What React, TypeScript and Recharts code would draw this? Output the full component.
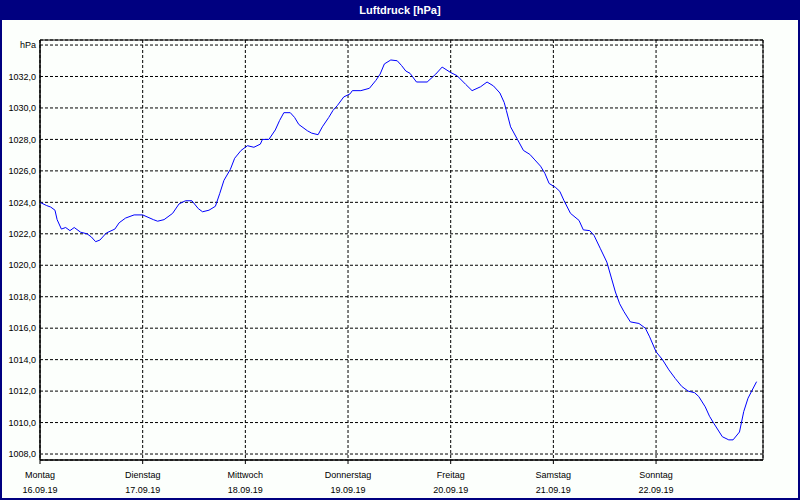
import { CartesianGrid, Line, LineChart, ReferenceArea, XAxis, YAxis } from 'recharts'

// hours since Monday 00:00 and air pressure
const hours = [
  0, 1.5, 2.5, 3.5, 4, 5, 6, 7, 8, 9.5, 11, 12, 13, 14, 15.5, 17.5, 18.5, 20, 22, 24,
  26.5, 27.5, 29, 31, 32.5, 34, 35.5, 37, 38, 39.5, 41, 42, 43, 44.5, 45.5, 47, 48.5, 50,
  51.5, 52, 53.5, 55, 56, 57, 58.5, 59.5, 60.5, 62.5, 63.5, 65, 66, 67.5, 68.5, 69.5, 71,
  72.5, 73, 75, 77, 78.5, 79.5, 80.5, 82, 83.5, 84.5, 85.5, 86.5, 88, 90.5, 92.5, 94, 96,
  97.5, 99.5, 101, 103, 104.5, 106, 107.5, 108.5, 109, 110, 111.5, 113, 114.5, 115.5, 117,
  118, 119, 120.5, 121.5, 122.5, 124, 126, 127, 128.5, 129.5, 131, 132.5, 133.5, 134.5,
  135.5, 136.5, 138, 140, 141.5, 142.5, 144, 145.5, 147, 148.5, 150, 151.5, 153, 154,
  155.5, 156.5, 157.5, 159.5, 161, 162, 163.5, 164.5, 165.5, 167.5,
]
const pressure = [
  1024.0, 1023.8, 1023.7, 1023.5, 1022.9, 1022.3, 1022.4, 1022.2, 1022.4, 1022.1, 1022.0,
  1021.8, 1021.5, 1021.6, 1022.05, 1022.3, 1022.7, 1023.0, 1023.2, 1023.2, 1022.9, 1022.8,
  1022.9, 1023.3, 1023.9, 1024.1, 1024.1, 1023.6, 1023.4, 1023.5, 1023.75, 1024.55, 1025.4,
  1026.1, 1026.8, 1027.3, 1027.6, 1027.5, 1027.7, 1028.0, 1028.0, 1028.6, 1029.2, 1029.7,
  1029.7, 1029.4, 1028.95, 1028.55, 1028.4, 1028.3, 1028.8, 1029.4, 1029.85, 1030.15,
  1030.7, 1030.9, 1031.1, 1031.1, 1031.25, 1031.75, 1032.15, 1032.8, 1033.05, 1033.0,
  1032.7, 1032.35, 1032.2, 1031.65, 1031.65, 1032.15, 1032.6, 1032.25, 1032.05, 1031.5,
  1031.1, 1031.35, 1031.65, 1031.4, 1030.95, 1030.35, 1029.85, 1028.8, 1028.05, 1027.3,
  1027.05, 1026.75, 1026.3, 1025.85, 1025.2, 1024.95, 1024.7, 1024.1, 1023.3, 1022.85,
  1022.25, 1022.2, 1021.9, 1021.05, 1020.2, 1019.25, 1018.3, 1017.55, 1017.05, 1016.4,
  1016.3, 1016.0, 1015.45, 1014.5, 1014.0, 1013.35, 1012.8, 1012.3, 1012.0, 1011.9,
  1011.65, 1011.0, 1010.4, 1009.95, 1009.1, 1008.9, 1008.9, 1009.4, 1010.7, 1011.55, 1012.6,
]

const dayNames = ['Montag', 'Dienstag', 'Mittwoch', 'Donnerstag', 'Freitag', 'Samstag', 'Sonntag']
const dayDates = ['16.09.19', '17.09.19', '18.09.19', '19.09.19', '20.09.19', '21.09.19', '22.09.19']
const dayTicks = [0, 24, 48, 72, 96, 120, 144]
const yTicks = [1008, 1010, 1012, 1014, 1016, 1018, 1020, 1022, 1024, 1026, 1028, 1030, 1032, 1034]

const X_MAX = 169
const Y_MIN = 1007.62
const Y_MAX = 1034.32

const NAVY = '#000080'
const FONT = '"Liberation Sans", Arial, sans-serif'

const data = hours.map((h, i) => ({ h, p: pressure[i] }))

function formatY(v: number): string {
  if (v === 1034) return 'hPa'
  return v.toFixed(1).replace('.', ',')
}

function DayTick({ x, y, payload }: any) {
  const i = dayTicks.indexOf(payload.value)
  return (
    <g>
      <text x={x} y={y + 14} textAnchor="middle" fontSize={9} fontFamily={FONT} fill="#000">
        {dayNames[i]}
      </text>
      <text x={x} y={y + 29} textAnchor="middle" fontSize={9} fontFamily={FONT} fill="#000">
        {dayDates[i]}
      </text>
    </g>
  )
}

export default function App() {
  return (
    <div
      style={{
        position: 'absolute',
        left: 0,
        top: 0,
        width: 800,
        height: 500,
        background: '#fcfffc',
        overflow: 'hidden',
      }}
    >
      <div
        style={{
          position: 'absolute',
          left: 0,
          top: 0,
          width: 800,
          height: 20,
          background: NAVY,
          color: '#fff',
          fontFamily: FONT,
          fontWeight: 'bold',
          fontSize: 11,
          lineHeight: '20px',
          textAlign: 'center',
        }}
      >
        Luftdruck [hPa]
      </div>
      <div style={{ position: 'absolute', left: 0, top: 20 }}>
        <LineChart
          width={800}
          height={480}
          data={data}
          margin={{ top: 20, right: 37, bottom: 0, left: 0 }}
        >
          <CartesianGrid stroke="#000" strokeDasharray="3 2" />
          <XAxis
            dataKey="h"
            type="number"
            domain={[0, X_MAX]}
            ticks={dayTicks}
            allowDataOverflow
            height={40}
            axisLine={{ stroke: '#000' }}
            tickLine={{ stroke: '#000' }}
            tickSize={4}
            tickMargin={0}
            tick={<DayTick />}
          />
          <YAxis
            type="number"
            domain={[Y_MIN, Y_MAX]}
            ticks={yTicks}
            allowDataOverflow
            width={40}
            axisLine={{ stroke: '#000' }}
            tickLine={false}
            tickSize={0}
            tickMargin={4}
            tickFormatter={formatY}
            tick={{ fill: '#000', fontSize: 9, fontFamily: FONT }}
          />
          <ReferenceArea
            x1={0}
            x2={X_MAX}
            y1={Y_MIN}
            y2={Y_MAX}
            fill="none"
            stroke="#000"
            strokeWidth={1}
          />
          <Line
            type="linear"
            dataKey="p"
            stroke="#0000ff"
            strokeWidth={1}
            dot={false}
            isAnimationActive={false}
          />
        </LineChart>
      </div>
      <div
        style={{
          position: 'absolute',
          left: 0,
          top: 0,
          width: 800,
          height: 500,
          boxSizing: 'border-box',
          borderLeft: `2px solid ${NAVY}`,
          borderRight: `2px solid ${NAVY}`,
          borderBottom: `2px solid ${NAVY}`,
          pointerEvents: 'none',
        }}
      />
    </div>
  )
}
